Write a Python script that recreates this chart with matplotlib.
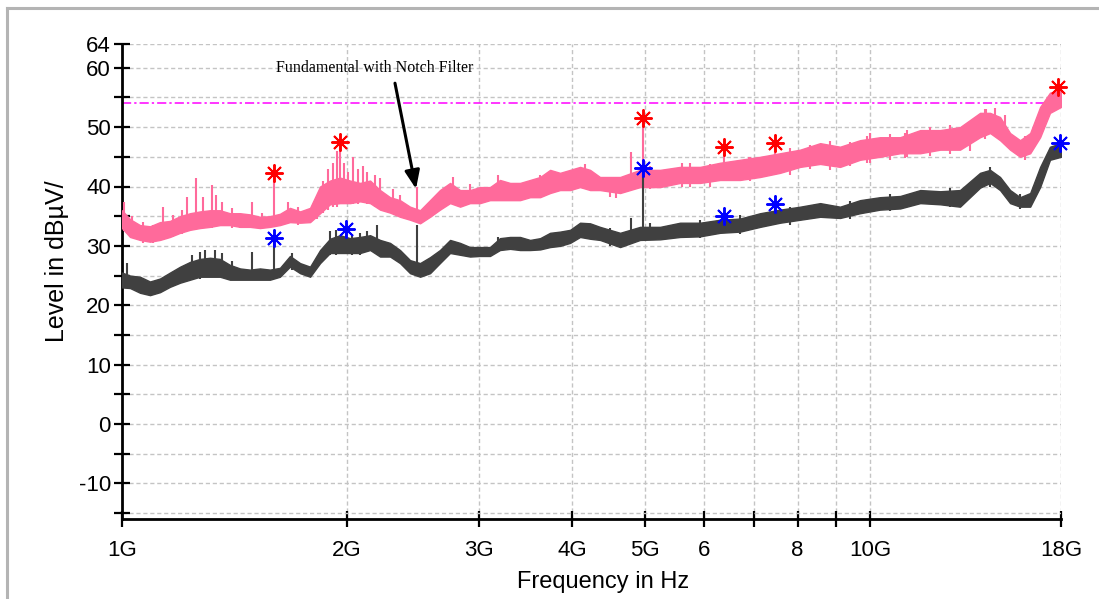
import matplotlib
matplotlib.use("Agg")
import matplotlib.pyplot as plt
from matplotlib.lines import Line2D

plt.rcParams['font.family'] = ['Liberation Sans', 'DejaVu Sans']
plt.rcParams['axes.unicode_minus'] = False

# ---------------- data (frequency in GHz, level in dBuV) ----------------
freq_ghz = [1.000, 1.025, 1.057, 1.090, 1.124, 1.159, 1.196, 1.233, 1.271, 1.311,
            1.352, 1.394, 1.438, 1.483, 1.529, 1.577, 1.626, 1.677, 1.730, 1.784,
            1.840, 1.897, 1.956, 2.018, 2.081, 2.146, 2.213, 2.282, 2.353, 2.427,
            2.503, 2.581, 2.661, 2.745, 2.831, 2.919, 3.010, 3.104, 3.201, 3.302,
            3.405, 3.512, 3.622, 3.735, 3.851, 3.972, 4.096, 4.224, 4.355,
            4.633, 4.926, 5.239, 5.572, 5.925, 6.302, 6.702, 7.129, 7.581, 8.063,
            8.576, 9.119, 9.697, 10.31, 10.97, 11.67, 12.41, 13.19, 14.03,
            14.47, 14.92, 15.39, 15.87, 16.37, 16.88, 17.40, 18.0]

peak_lo = [33.0, 31.5, 31.0, 30.7, 31.0, 31.5, 32.2, 32.7, 33.0, 33.2,
           33.5, 33.5, 33.2, 33.2, 33.0, 33.2, 33.5, 34.0, 33.9, 34.0,
           35.5, 37.0, 37.2, 37.2, 37.5, 37.2, 36.1, 35.6, 34.9, 34.4,
           33.8, 34.9, 36.1, 37.2, 36.6, 37.2, 37.2, 37.7, 37.7, 37.7,
           37.7, 38.2, 38.2, 38.9, 39.4, 39.4, 39.9, 39.4, 39.4,
           38.9, 39.9, 39.9, 40.6, 40.6, 41.1, 41.1, 41.6, 42.3, 43.3,
           43.8, 43.3, 44.5, 45.0, 45.6, 45.6, 46.2, 46.2, 48.3,
           49.0, 47.8, 46.2, 45.0, 45.6, 48.3, 52.4, 53.4]
peak_hi = [36.0, 34.5, 33.5, 33.3, 34.0, 34.2, 35.0, 35.5, 35.8, 36.0,
           36.0, 35.5, 35.5, 35.3, 34.9, 35.0, 35.4, 36.4, 35.8, 36.4,
           40.0, 41.0, 41.5, 41.0, 40.6, 41.0, 39.4, 38.2, 37.7, 36.6,
           36.0, 37.7, 39.4, 40.6, 39.4, 39.4, 39.9, 39.9, 41.1, 40.6,
           40.6, 41.1, 41.6, 42.8, 42.3, 42.8, 43.3, 42.8, 41.6,
           41.6, 42.8, 42.8, 43.3, 43.3, 44.0, 44.5, 45.0, 45.6, 46.2,
           47.3, 46.7, 47.8, 48.3, 48.3, 49.5, 49.5, 50.0, 52.4,
           52.4, 51.7, 49.0, 47.8, 49.0, 53.4, 55.8, 56.3]

avg_lo = [23.0, 22.9, 22.1, 21.7, 22.2, 23.1, 23.8, 24.3, 24.8, 24.8,
          24.8, 24.3, 24.3, 24.3, 24.3, 24.3, 24.8, 26.5, 25.4, 24.8,
          27.1, 28.8, 28.8, 28.8, 28.8, 29.3, 28.2, 28.2, 27.1, 25.4,
          24.8, 25.4, 27.1, 28.8, 28.5, 28.2, 28.3, 28.3, 29.3, 29.5,
          29.3, 29.3, 29.4, 29.8, 30.0, 30.5, 31.5, 31.2, 31.0,
          29.8, 31.0, 31.1, 31.5, 31.6, 32.2, 32.4, 33.2, 33.9, 34.4,
          34.9, 34.7, 35.5, 36.1, 36.3, 37.2, 37.0, 36.6, 39.8,
          40.6, 39.4, 37.2, 36.6, 36.6, 39.9, 44.5, 45.0]
avg_hi = [25.5, 25.0, 24.8, 24.0, 24.5, 25.5, 26.5, 27.3, 27.8, 28.0,
          27.8, 26.8, 26.2, 26.0, 26.2, 26.0, 26.3, 28.3, 27.1, 26.5,
          29.3, 31.2, 31.8, 31.3, 31.5, 31.8, 31.0, 30.5, 29.3, 27.6,
          27.1, 28.1, 29.3, 31.0, 30.5, 29.8, 29.8, 29.8, 31.3, 31.5,
          31.5, 31.0, 31.3, 32.2, 32.4, 32.7, 33.9, 33.8, 33.2,
          32.2, 33.2, 33.2, 33.9, 33.9, 34.4, 34.6, 35.5, 36.1, 36.6,
          37.2, 36.6, 37.7, 38.2, 38.4, 39.4, 39.2, 39.4, 42.3,
          42.8, 41.6, 39.4, 38.2, 38.9, 43.3, 46.7, 47.3]

# narrow spikes / noise excursions of the peak trace (frequency, foot, tip)
peak_spike_f = [1.006, 1.031, 1.067, 1.100, 1.134, 1.170, 1.203, 1.221, 1.256, 1.283,
                1.319, 1.336, 1.360, 1.403, 1.438, 1.492, 1.539, 1.597, 1.667, 1.720,
                1.822, 1.857, 1.886, 1.915, 1.938, 1.956, 1.980, 2.005, 2.036, 2.066,
                2.097, 2.128, 2.177, 2.213, 2.303, 2.353, 2.479, 2.770, 2.919, 3.181,
                3.622, 3.710, 4.160, 4.492, 4.580, 4.791, 4.972, 5.080, 5.600, 5.745,
                6.110, 6.379, 6.900, 6.912, 7.464, 7.818, 8.300, 8.314, 8.843, 9.403,
                9.900, 10.00, 10.63, 11.14, 11.20, 12.03, 12.79, 12.80, 13.60, 14.25,
                14.30, 14.69, 15.15, 16.10, 17.84]
peak_spike_base = [32.5, 31.5, 30.5, 30.5, 31.0, 31.5, 32.0, 32.5, 33.0, 33.0,
                   33.0, 33.5, 33.5, 33.0, 33.0, 33.0, 32.8, 34.0, 33.8, 33.5,
                   34.5, 35.5, 36.0, 36.5, 36.5, 37.0, 37.0, 37.0, 37.0, 37.0,
                   37.5, 37.0, 36.5, 36.0, 35.5, 35.0, 35.0, 37.0, 37.0, 37.5,
                   38.5, 38.5, 39.5, 38.2, 38.0, 40.0, 40.0, 39.5, 40.0, 40.0,
                   40.0, 42.0, 41.5, 41.0, 43.0, 42.0, 43.5, 43.0, 42.8, 43.5,
                   44.0, 44.0, 44.5, 44.8, 45.0, 45.2, 45.5, 46.0, 46.0, 48.0,
                   48.5, 48.5, 47.0, 44.5, 55.0]
peak_spike_top = [37.4, 35.0, 34.0, 33.5, 36.6, 35.2, 36.1, 38.2, 41.4, 38.2,
                  40.3, 38.6, 37.4, 36.4, 35.5, 37.4, 35.5, 42.3, 37.4, 36.6,
                  38.2, 41.0, 43.0, 44.0, 46.0, 47.5, 44.0, 42.5, 45.0, 43.0,
                  43.5, 42.5, 42.0, 41.5, 39.5, 38.5, 39.9, 41.6, 40.5, 41.9,
                  41.9, 42.5, 43.8, 41.5, 41.5, 45.8, 51.5, 43.5, 44.0, 44.0,
                  43.8, 46.7, 45.0, 45.0, 47.3, 46.5, 47.0, 47.0, 47.6, 47.5,
                  48.5, 49.0, 48.8, 49.0, 49.5, 50.0, 50.2, 50.3, 50.5, 53.0,
                  53.0, 53.2, 52.0, 48.5, 56.8]

avg_spike_f = [1.016, 1.240, 1.271, 1.291, 1.331, 1.360, 1.403, 1.492, 1.597, 1.687,
               1.897, 1.932, 1.993, 2.030, 2.081, 2.128, 2.193, 2.479, 3.181, 4.492,
               4.791, 4.972, 5.080, 5.925, 6.379, 6.702, 7.464, 7.818, 9.403, 10.63,
               12.79, 14.47, 15.87, 17.95]
avg_spike_base = [23.0, 24.5, 24.5, 24.8, 25.0, 25.0, 24.5, 25.0, 25.0, 26.0,
                  28.5, 28.5, 30.0, 28.5, 28.5, 29.0, 30.0, 25.0, 29.0, 30.0,
                  31.0, 31.0, 31.0, 31.3, 33.0, 32.0, 34.0, 33.5, 34.5, 35.8,
                  36.5, 40.0, 36.2, 46.0]
avg_spike_top = [27.1, 28.5, 29.0, 29.3, 29.3, 28.8, 27.5, 29.0, 31.3, 28.8,
                 32.5, 32.7, 32.9, 32.0, 32.2, 32.5, 33.5, 33.5, 31.5, 33.0,
                 34.7, 43.1, 33.8, 34.4, 35.0, 35.2, 37.1, 36.6, 37.5, 38.8,
                 39.8, 43.3, 38.8, 47.4]

# detected peak markers
peak_mark_f = [1.597, 1.956, 4.972, 6.379, 7.464, 17.84]
peak_mark_lv = [42.3, 47.5, 51.5, 46.7, 47.3, 56.8]
avg_mark_f = [1.597, 1.993, 4.972, 6.379, 7.464, 17.95]
avg_mark_lv = [31.3, 32.9, 43.1, 35.0, 37.1, 47.4]

limit_level = 54.0

x_ticks = [1, 2, 3, 4, 5, 6, 7, 8, 9, 10, 18]
x_labels = ['1G', '2G', '3G', '4G', '5G', '6', '', '8', '', '10G', '18G']
y_major = [-10, 0, 10, 20, 30, 40, 50, 60, 64]
y_minor = [-15, -5, 5, 15, 25, 35, 45, 55]

# ---------------- figure ----------------
PINK = '#FF6A9B'
GRAY = '#404040'

fig = plt.figure(figsize=(10.99, 5.99), dpi=100)
ax = fig.add_axes([122 / 1099, 1 - 519 / 599, (1061 - 122) / 1099, (519 - 44) / 599])

ax.set_xscale('log')
ax.set_xlim(1, 18)
ax.set_ylim(-16, 64)

ax.set_xticks(x_ticks)
ax.set_xticklabels(x_labels)
ax.xaxis.set_minor_locator(matplotlib.ticker.NullLocator())
ax.set_yticks(y_major)
ax.set_yticks(y_minor, minor=True)
ax.grid(True, which='both', color='#c4c4c4', linestyle=(0, (3, 2)), linewidth=1.0, zorder=0)
ax.set_axisbelow(True)

# traces
ax.fill_between(freq_ghz, peak_lo, peak_hi, color=PINK, linewidth=1.0, edgecolor=PINK, zorder=3)
ax.vlines(peak_spike_f, peak_spike_base, peak_spike_top, color=PINK, linewidth=1.5, zorder=3)
ax.fill_between(freq_ghz, avg_lo, avg_hi, color=GRAY, linewidth=1.0, edgecolor=GRAY, zorder=4)
ax.vlines(avg_spike_f, avg_spike_base, avg_spike_top, color=GRAY, linewidth=1.5, zorder=4)

# limit line
ax.axhline(limit_level, color='#FF00FF', linestyle=(0, (6, 2, 1.5, 2)), linewidth=1.1, zorder=2)

# markers
ax.plot(peak_mark_f, peak_mark_lv, linestyle='none', marker=(8, 2, 0), markersize=13,
        markeredgewidth=1.4, color='#FF0000', zorder=6, clip_on=False)
ax.plot(avg_mark_f, avg_mark_lv, linestyle='none', marker=(8, 2, 0), markersize=13,
        markeredgewidth=1.4, color='#0000FF', zorder=6, clip_on=False)

# annotation
ax.text(2.179, 60.0, 'Fundamental with Notch Filter', fontsize=11.5,
        family=['Liberation Serif', 'DejaVu Serif'], ha='center', va='center', zorder=7)
ax.annotate('', xy=(2.472, 39.6), xytext=(2.317, 57.4),
            arrowprops=dict(arrowstyle='-|>,head_length=1.1,head_width=0.45', color='black',
                            lw=2.2, shrinkA=0, shrinkB=0), zorder=7)

# spines / ticks
for s in ['top', 'right']:
    ax.spines[s].set_visible(False)
for s in ['left', 'bottom']:
    ax.spines[s].set_linewidth(2.0)
    ax.spines[s].set_color('black')

ax.tick_params(which='both', direction='inout', length=12, width=1.6, color='black',
               labelsize=16)
ax.tick_params(axis='x', pad=9)
ax.tick_params(axis='y', pad=2)

ax.set_xlabel('Frequency in Hz', fontsize=17)
ax.set_ylabel('Level in dBµV/', fontsize=18)
ax.xaxis.set_label_coords(0.512, -0.11)
ax.yaxis.set_label_coords(-0.056, 0.543)

# outer frame (left & top lines)
fig.add_artist(Line2D([7 / 1099, 7 / 1099], [0, 1 - 8 / 599], transform=fig.transFigure,
                      color='#b4b4b4', linewidth=2.2))
fig.add_artist(Line2D([7 / 1099, 1], [1 - 8 / 599, 1 - 8 / 599], transform=fig.transFigure,
                      color='#b4b4b4', linewidth=2.2))

fig.savefig('out.png', dpi=100)
